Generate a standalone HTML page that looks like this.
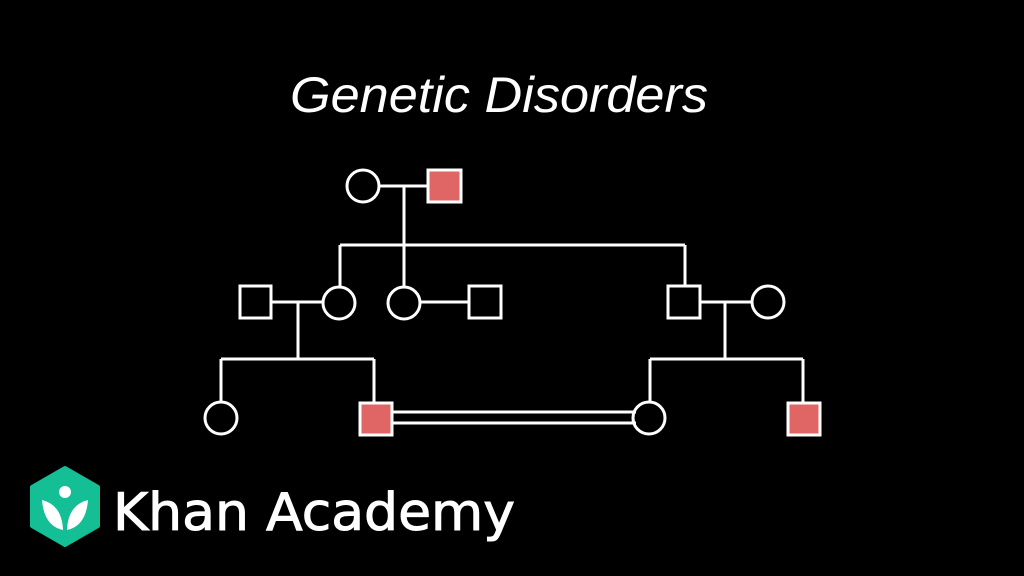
<!DOCTYPE html>
<html><head><style>
html,body{margin:0;padding:0;background:#000;width:1024px;height:576px;overflow:hidden}
</style></head><body>
<svg width="1024" height="576" viewBox="0 0 1024 576" xmlns="http://www.w3.org/2000/svg">
<rect width="1024" height="576" fill="#000"/>
<text x="290" y="112" font-family="Liberation Sans, sans-serif" font-style="italic" font-size="50" fill="#fff" textLength="418" lengthAdjust="spacingAndGlyphs">Genetic Disorders</text>
<g stroke="#fff" stroke-width="3" fill="none">
<line x1="379" y1="186" x2="428" y2="186"/>
<line x1="404" y1="186" x2="404" y2="287"/>
<line x1="340" y1="245" x2="685" y2="245"/>
<line x1="340" y1="245" x2="340" y2="287"/>
<line x1="685" y1="245" x2="685" y2="286"/>
<line x1="271" y1="302" x2="323" y2="302"/>
<line x1="420" y1="302" x2="469" y2="302"/>
<line x1="298" y1="302" x2="298" y2="359"/>
<line x1="221" y1="359" x2="374" y2="359"/>
<line x1="221" y1="359" x2="221" y2="402"/>
<line x1="374" y1="359" x2="374" y2="403"/>
<line x1="700" y1="302" x2="752" y2="302"/>
<line x1="725" y1="302" x2="725" y2="359"/>
<line x1="650" y1="359" x2="803" y2="359"/>
<line x1="650" y1="359" x2="650" y2="402"/>
<line x1="803" y1="359" x2="803" y2="403"/>
<line x1="392" y1="412" x2="636" y2="412"/>
<line x1="392" y1="423" x2="636" y2="423"/>
<circle cx="363" cy="186" r="16"/>
<circle cx="339" cy="303" r="16"/>
<circle cx="404" cy="303" r="16"/>
<circle cx="768" cy="302" r="16"/>
<circle cx="221" cy="418" r="16"/>
<circle cx="649" cy="418" r="16"/>
<rect x="240" y="286" width="31" height="32"/>
<rect x="469" y="286" width="32" height="32"/>
<rect x="668" y="286" width="32" height="32"/>
<rect x="428" y="170" width="33" height="32" fill="#e06666"/>
<rect x="360" y="403" width="32" height="32" fill="#e06666"/>
<rect x="788" y="403" width="32" height="32" fill="#e06666"/>
</g>
<polygon points="65,468 98,487 98,526 65,545 32,526 32,487" fill="#14bf96" stroke="#14bf96" stroke-width="4" stroke-linejoin="round"/>
<circle cx="65" cy="492" r="6" fill="#fff"/>
<path d="M42,500 Q44,526 63,530 Q62,505 42,500Z" fill="#fff"/>
<path d="M88,500 Q86,526 67,530 Q68,505 88,500Z" fill="#fff"/>
<text x="113" y="530" font-family="DejaVu Sans, sans-serif" font-size="52" fill="#fff" stroke="#fff" stroke-width="1" textLength="402" lengthAdjust="spacingAndGlyphs">Khan Academy</text>
</svg>
</body></html>
